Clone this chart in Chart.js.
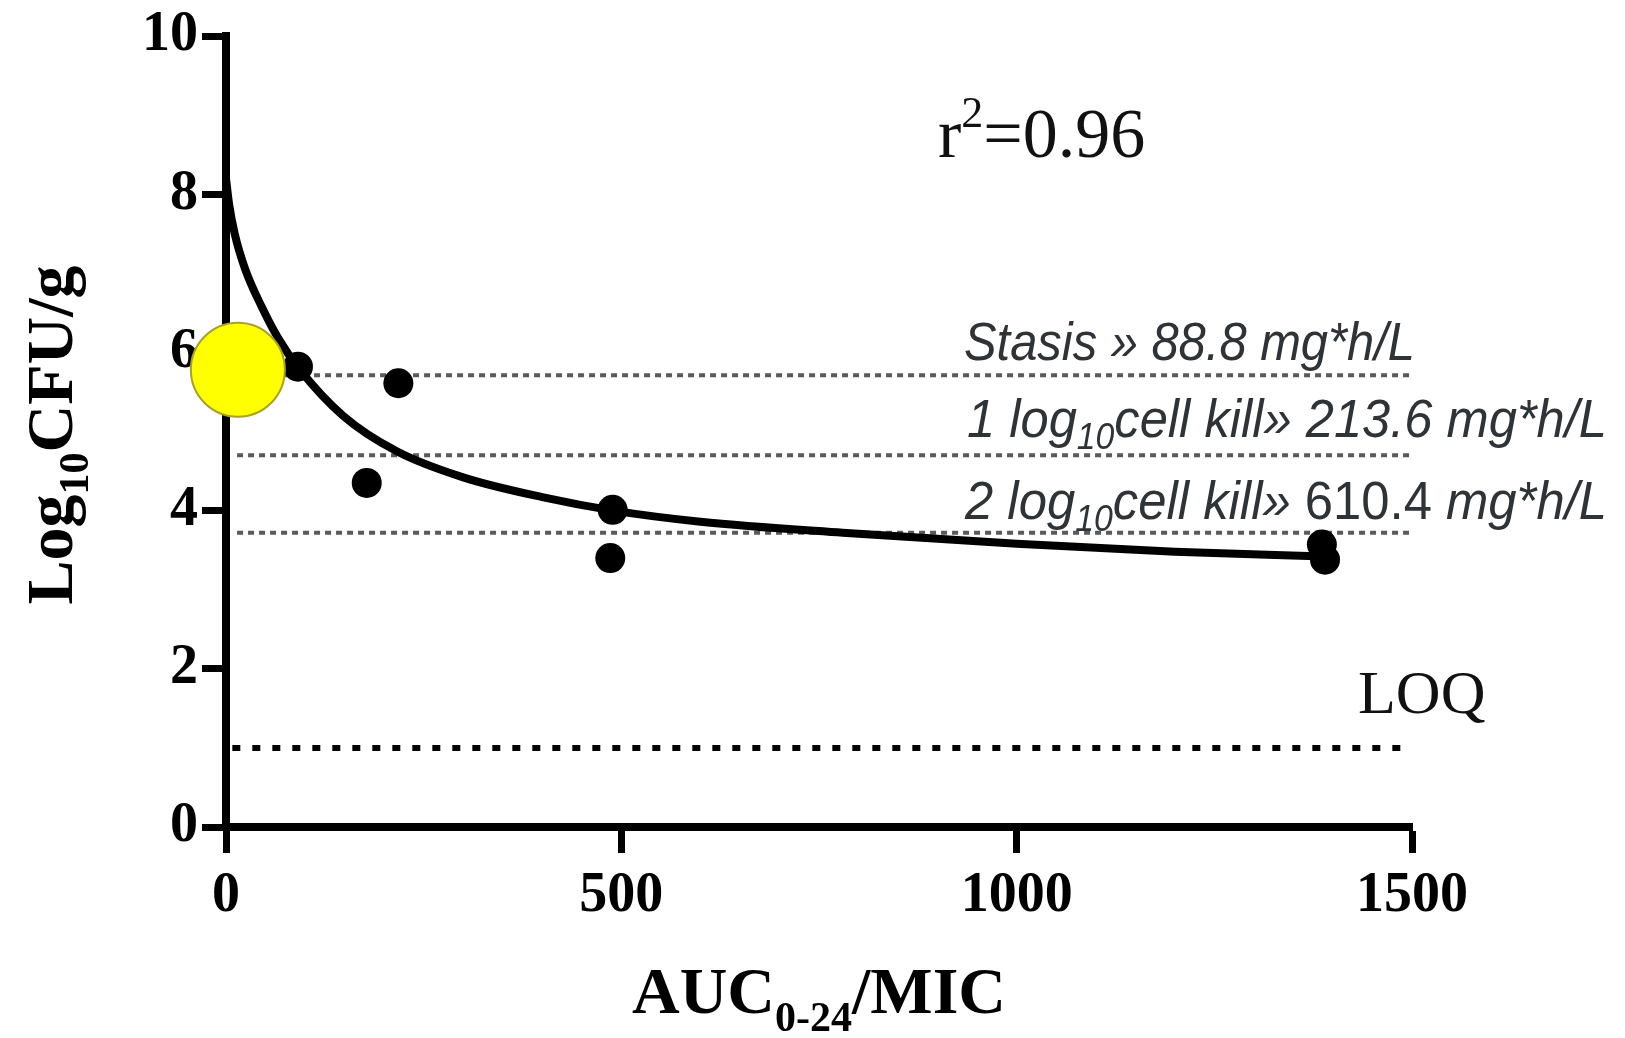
<!DOCTYPE html>
<html>
<head>
<meta charset="utf-8">
<script src="https://cdn.jsdelivr.net/npm/chart.js@4.4.0/dist/chart.umd.min.js"></script>
<style>
  body { margin: 0; background: #fff; }
  canvas { display: block; }
</style>
</head>
<body>
<canvas id="grafico" width="1625" height="1038"></canvas>
<script>
// Curva ajustada
const fitX = [0, 4, 11, 24, 45, 66, 92, 148, 216, 300, 400, 490, 600, 780, 1000, 1200, 1390];
const fitY = [8.2, 7.87, 7.5, 7.06, 6.58, 6.18, 5.8, 5.2, 4.75, 4.42, 4.17, 4.0, 3.86, 3.72, 3.58, 3.48, 3.42];

// Puntos observados
const obsX = [91, 218, 178, 489, 486, 1386, 1390];
const obsY = [5.82, 5.61, 4.35, 4.01, 3.40, 3.57, 3.38];

// Punto amarillo (control)
const ctrlX = [15];
const ctrlY = [5.78];

// Niveles de referencia: estasis, 1 log, 2 log
const refLevels = [5.71, 4.70, 3.72];
const refX = [14, 1500];
const loqLevel = 1.0;
const loqX = [8, 1495];

// Ejes
const xTicks = [0, 500, 1000, 1500];
const yTicks = [0, 2, 4, 6, 8, 10];

const serif = "'Liberation Serif', 'Times New Roman', serif";

function pares(xs, ys) {
    return xs.map((x, i) => ({ x: x, y: ys[i] }));
}

// Dibuja texto con partes (subíndices, superíndices)
function dibujarPartes(ctx, partes, x, y, align) {
    let total = 0;
    partes.forEach(p => { ctx.font = p.font; total += ctx.measureText(p.text).width; });
    let cx = align === 'center' ? x - total / 2 : x;
    partes.forEach(p => {
        ctx.font = p.font;
        ctx.fillText(p.text, cx, y + (p.dy || 0));
        cx += ctx.measureText(p.text).width;
    });
    return total;
}

const textosPlugin = {
    id: 'textos',
    afterDraw(chart) {
        const ctx = chart.ctx;
        ctx.save();
        ctx.textAlign = 'left';
        ctx.textBaseline = 'alphabetic';
        ctx.fillStyle = '#000';

        // Título eje X
        dibujarPartes(ctx, [
            { text: 'AUC', font: 'bold 66px ' + serif },
            { text: '0-24', font: 'bold 42px ' + serif, dy: 18 },
            { text: '/MIC', font: 'bold 66px ' + serif }
        ], 819, 1013, 'center');

        // Título eje Y (rotado)
        ctx.save();
        ctx.translate(72, 435);
        ctx.rotate(-Math.PI / 2);
        dibujarPartes(ctx, [
            { text: 'Log', font: 'bold 66px ' + serif },
            { text: '10', font: 'bold 42px ' + serif, dy: 16 },
            { text: 'CFU/g', font: 'bold 66px ' + serif }
        ], 0, 0, 'center');
        ctx.restore();

        // r²
        ctx.fillStyle = '#111';
        dibujarPartes(ctx, [
            { text: 'r', font: '70px ' + serif },
            { text: '2', font: '44px ' + serif, dy: -30 },
            { text: '=0.96', font: '70px ' + serif }
        ], 938, 157, 'left');

        // LOQ
        dibujarPartes(ctx, [{ text: 'LOQ', font: '62px ' + serif }], 1358, 713, 'left');

        // Etiquetas de referencia (itálica, comprimida)
        const it = "italic 54px 'Liberation Sans', 'DejaVu Sans', sans-serif";
        const itSub = "italic 36px 'Liberation Sans', 'DejaVu Sans', sans-serif";
        const up = "54px 'Liberation Sans', 'DejaVu Sans', sans-serif";
        const lineas = [
            { partes: [{ text: 'Stasis » 88.8 mg*h/L', font: it }], x: 964, y: 360, w: 451 },
            { partes: [{ text: '1 log', font: it }, { text: '10', font: itSub, dy: 12 }, { text: 'cell kill» 213.6 mg*h/L', font: it }], x: 967, y: 437, w: 640 },
            { partes: [{ text: '2 log', font: it }, { text: '10', font: itSub, dy: 12 }, { text: 'cell kill» ', font: it }, { text: '610.4', font: up }, { text: ' mg*h/L', font: it }], x: 965, y: 519, w: 642 }
        ];
        ctx.fillStyle = '#2e3338';
        lineas.forEach(l => {
            let ancho = 0;
            l.partes.forEach(p => { ctx.font = p.font; ancho += ctx.measureText(p.text).width; });
            const sx = l.w / ancho;
            ctx.save();
            ctx.translate(l.x, l.y);
            ctx.scale(sx, 1);
            dibujarPartes(ctx, l.partes, 0, 0, 'left');
            ctx.restore();
        });
        ctx.restore();
    }
};

const datasets = [];

// Punto amarillo encima de todo
datasets.push({
    label: 'control',
    data: pares(ctrlX, ctrlY),
    pointRadius: 47,
    pointBackgroundColor: '#ffff00',
    pointBorderColor: '#a8a028',
    pointBorderWidth: 2,
    showLine: false,
    clip: false,
    order: 0
});

datasets.push({
    label: 'observados',
    data: pares(obsX, obsY),
    pointRadius: 15,
    pointBackgroundColor: '#000',
    pointBorderColor: '#000',
    pointBorderWidth: 0,
    showLine: false,
    order: 1
});

datasets.push({
    label: 'ajuste',
    data: pares(fitX, fitY),
    showLine: true,
    borderColor: '#000',
    borderWidth: 8,
    borderCapStyle: 'round',
    cubicInterpolationMode: 'monotone',
    pointRadius: 0,
    order: 2
});

refLevels.forEach((nivel, i) => {
    datasets.push({
        label: 'ref' + i,
        data: pares(refX, refX.map(() => nivel)),
        showLine: true,
        borderColor: '#5a5a5a',
        borderWidth: 4,
        borderDash: [6, 5],
        pointRadius: 0,
        order: 3
    });
});

datasets.push({
    label: 'LOQ',
    data: pares(loqX, loqX.map(() => loqLevel)),
    showLine: true,
    borderColor: '#000',
    borderWidth: 6,
    borderDash: [8, 12],
    pointRadius: 0,
    order: 3
});

const ctx = document.getElementById('grafico').getContext('2d');
const chart = new Chart(ctx, {
    type: 'scatter',
    data: { datasets: datasets },
    options: {
        responsive: false,
        animation: false,
        layout: { autoPadding: false, padding: { left: 0, right: 213, top: 36, bottom: 0 } },
        plugins: {
            legend: { display: false },
            tooltip: { enabled: false }
        },
        scales: {
            x: {
                type: 'linear',
                min: 0,
                max: 1500,
                afterBuildTicks: s => { s.ticks = xTicks.map(v => ({ value: v })); },
                afterFit: s => { s.height = 211; },
                grid: { display: true, drawOnChartArea: false, drawTicks: true, tickLength: 26, tickWidth: 7, tickColor: '#000' },
                border: { display: true, width: 8, color: '#000' },
                ticks: { color: '#000', padding: 10, maxRotation: 0, callback: v => String(v), font: { family: serif, size: 56, weight: 'bold' } }
            },
            y: {
                type: 'linear',
                min: 0,
                max: 10,
                afterBuildTicks: s => { s.ticks = yTicks.map(v => ({ value: v })); },
                afterFit: s => { s.width = 226; s.paddingTop = 0; s.paddingBottom = 0; },
                grid: { display: true, drawOnChartArea: false, drawTicks: true, tickLength: 24, tickWidth: 7, tickColor: '#000' },
                border: { display: true, width: 8, color: '#000' },
                ticks: { color: '#000', padding: 4, callback: v => String(v), font: { family: serif, size: 56, weight: 'bold' } }
            }
        }
    },
    plugins: [textosPlugin]
});
</script>
</body>
</html>
